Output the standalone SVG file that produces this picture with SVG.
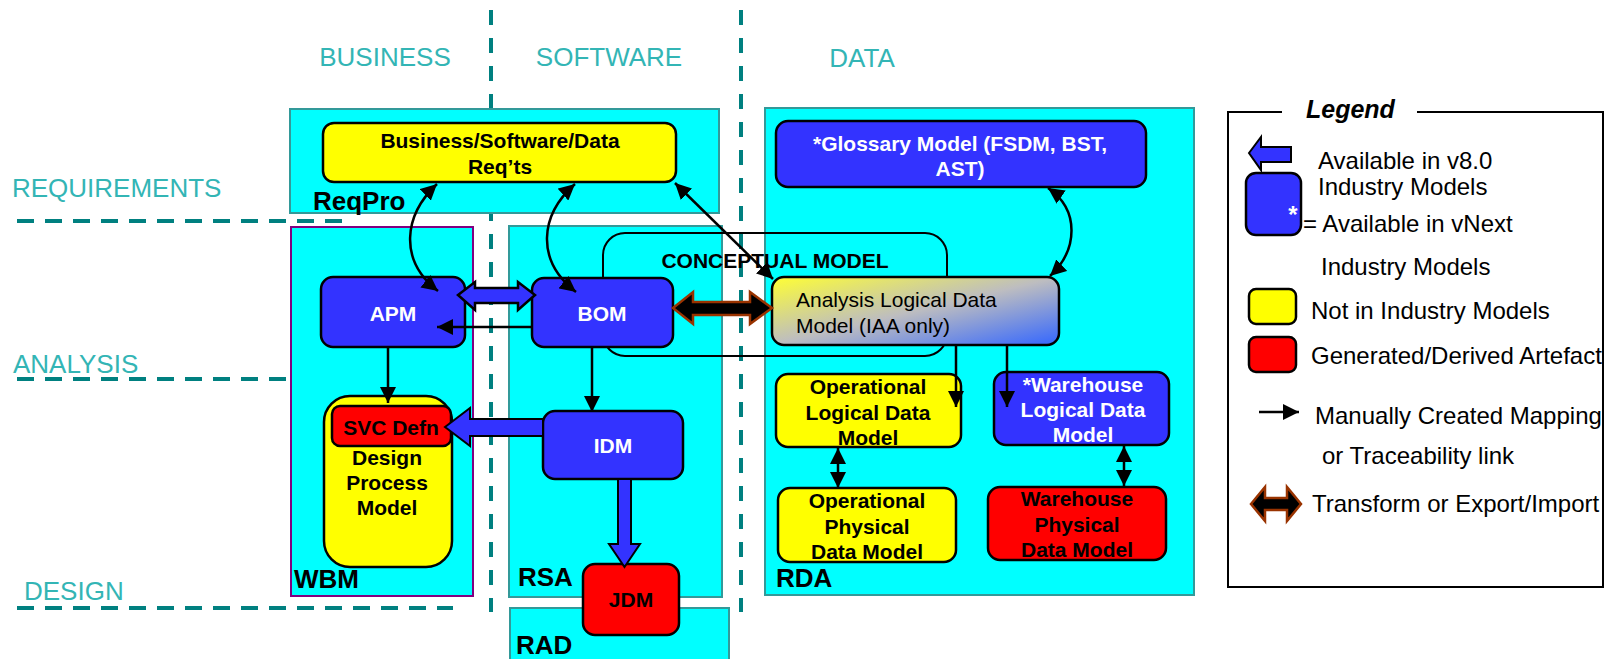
<svg xmlns="http://www.w3.org/2000/svg" width="1613" height="659" viewBox="0 0 1613 659">
<style>
text{font-family:"Liberation Sans",Arial,sans-serif}
.lane{fill:#33B5B5;font-size:26px}
.dash{stroke:#008080;stroke-width:4;fill:none}
.dv{stroke-dasharray:15 13}
.dh{stroke-dasharray:17 11}
.cont{fill:#00FFFF;stroke:#339999;stroke-width:2}
.tool{font-size:26px;font-weight:bold;fill:#000}
.blue{fill:#3333FF;stroke:#000;stroke-width:2.5}
.yel{fill:#FFFF00;stroke:#000;stroke-width:2.5}
.red{fill:#FF0000;stroke:#000;stroke-width:2.5}
.nt{font-size:21px;font-weight:bold;text-anchor:middle}
.w{fill:#fff}
.k{fill:#000}
.con{stroke:#000;stroke-width:2.5;fill:none}
.leg{font-size:24px;fill:#000}
</style>
<defs>
<marker id="ah" markerUnits="userSpaceOnUse" markerWidth="16" markerHeight="16" refX="16" refY="8" orient="auto-start-reverse" viewBox="0 0 16 16">
<path d="M0,0 L16,8 L0,16 Z" fill="#000"/>
</marker>
<linearGradient id="grad" x1="0" y1="0" x2="1" y2="1">
<stop offset="0" stop-color="#FFFF33"/>
<stop offset="0.5" stop-color="#BDBDC0"/>
<stop offset="1" stop-color="#3366FF"/>
</linearGradient>
</defs>
<rect width="1613" height="659" fill="#fff"/>

<g id="lanes">
<text class="lane" x="385" y="66" text-anchor="middle">BUSINESS</text>
<text class="lane" x="609" y="66" text-anchor="middle">SOFTWARE</text>
<text class="lane" x="862" y="67" text-anchor="middle">DATA</text>
<text class="lane" x="12" y="197">REQUIREMENTS</text>
<text class="lane" x="13" y="373">ANALYSIS</text>
<text class="lane" x="24" y="600">DESIGN</text>
<path class="dash dv" d="M491,10 L491,612"/>
<path class="dash dv" d="M741,10 L741,612"/>
<path class="dash dh" d="M17,221 L347,221"/>
<path class="dash dh" d="M17,379 L288,379"/>
<path class="dash dh" d="M17,608 L453,608"/>
</g>

<g id="reqpro">
<rect class="cont" x="290" y="109" width="429" height="104"/>
<text class="tool" x="313" y="210">ReqPro</text>
</g>
<g id="wbm">
<rect x="291" y="227" width="182" height="369" fill="#00FFFF" stroke="#800080" stroke-width="2"/>
<text class="tool" x="294" y="588">WBM</text>
</g>
<g id="rsa">
<rect class="cont" x="509" y="226" width="213" height="371"/>
<text class="tool" x="518" y="586">RSA</text>
</g>
<g id="rad">
<rect class="cont" x="510" y="608" width="219" height="60"/>
<text class="tool" x="516" y="654">RAD</text>
</g>
<g id="rda">
<rect class="cont" x="765" y="108" width="429" height="487"/>
<text class="tool" x="776" y="587">RDA</text>
</g>

<g id="conceptual-model">
<rect x="603" y="233" width="344" height="123" rx="22" fill="none" stroke="#000" stroke-width="2"/>
<text x="775" y="268" font-size="21" font-weight="bold" text-anchor="middle">CONCEPTUAL MODEL</text>
</g>

<g id="req">
<rect class="yel" x="323" y="123" width="353" height="59" rx="11"/>
<text class="nt k" x="500" y="147.5">Business/Software/Data</text>
<text class="nt k" x="500" y="173.5">Req’ts</text>
</g>
<g id="apm">
<rect class="blue" x="321" y="277" width="144" height="70" rx="12"/>
<text class="nt w" x="393" y="320.5">APM</text>
</g>
<g id="bom">
<rect class="blue" x="532" y="278" width="141" height="69" rx="12"/>
<text class="nt w" x="602" y="320.5">BOM</text>
</g>
<g id="dpm">
<rect class="yel" x="324" y="396" width="128" height="171" rx="26"/>
<text class="nt k" x="387" y="464.5">Design</text>
<text class="nt k" x="387" y="489.5">Process</text>
<text class="nt k" x="387" y="514.5">Model</text>
</g>
<g id="svc">
<rect class="red" x="332" y="406" width="119" height="40" rx="8"/>
<text class="nt k" x="391" y="434.5">SVC Defn</text>
</g>
<g id="idm">
<rect class="blue" x="543" y="411" width="140" height="68" rx="12"/>
<text class="nt w" x="613" y="452.5">IDM</text>
</g>
<g id="jdm">
<rect class="red" x="583" y="564" width="96" height="71" rx="12"/>
<text class="nt k" x="631" y="606.5">JDM</text>
</g>
<g id="glossary">
<rect class="blue" x="776" y="121" width="370" height="66" rx="12"/>
<text class="nt w" x="960" y="150.5">*Glossary Model (FSDM, BST,</text>
<text class="nt w" x="960" y="175.5">AST)</text>
</g>
<g id="aldm">
<rect x="772" y="277" width="287" height="68" rx="12" fill="url(#grad)" stroke="#000" stroke-width="2.5"/>
<text x="796" y="307" font-size="21">Analysis Logical Data</text>
<text x="796" y="333" font-size="21">Model (IAA only)</text>
</g>
<g id="old">
<rect class="yel" x="776" y="374" width="185" height="73" rx="12"/>
<text class="nt k" x="868" y="393.5">Operational</text>
<text class="nt k" x="868" y="419.5">Logical Data</text>
<text class="nt k" x="868" y="444.5">Model</text>
</g>
<g id="wld">
<rect class="blue" x="994" y="372" width="175" height="73" rx="12"/>
<text class="nt w" x="1083" y="391.5">*Warehouse</text>
<text class="nt w" x="1083" y="416.5">Logical Data</text>
<text class="nt w" x="1083" y="441.5">Model</text>
</g>
<g id="opd">
<rect class="yel" x="778" y="488" width="178" height="74" rx="12"/>
<text class="nt k" x="867" y="507.5">Operational</text>
<text class="nt k" x="867" y="533.5">Physical</text>
<text class="nt k" x="867" y="558.5">Data Model</text>
</g>
<g id="wpd">
<rect class="red" x="988" y="487" width="178" height="73" rx="12"/>
<text class="nt k" x="1077" y="505.5">Warehouse</text>
<text class="nt k" x="1077" y="531.5">Physical</text>
<text class="nt k" x="1077" y="556.5">Data Model</text>
</g>

<g id="connectors">
<path class="con" d="M437,184 C404,215 398,260 438,291" marker-start="url(#ah)" marker-end="url(#ah)"/>
<path class="con" d="M575,184 C540,215 535,260 576,292" marker-start="url(#ah)" marker-end="url(#ah)"/>
<path class="con" d="M675,183 L773,279" marker-start="url(#ah)" marker-end="url(#ah)"/>
<path class="con" d="M1048,188 C1080,210 1078,250 1050,276" marker-start="url(#ah)" marker-end="url(#ah)"/>
<path class="con" d="M532,327 L437,327" marker-end="url(#ah)"/>
<path class="con" d="M388,347 L388,403" marker-end="url(#ah)"/>
<path class="con" d="M592,347 L592,412" marker-end="url(#ah)"/>
<path class="con" d="M956,345 L956,407" marker-end="url(#ah)"/>
<path class="con" d="M1007,345 L1007,407" marker-end="url(#ah)"/>
<path class="con" d="M838,448 L838,488" marker-start="url(#ah)" marker-end="url(#ah)"/>
<path class="con" d="M1124,446 L1124,486" marker-start="url(#ah)" marker-end="url(#ah)"/>
<path d="M458,295 L475,282 L475,288 L518,288 L518,282 L535,295 L518,310 L518,303 L475,303 L475,310 Z" fill="#3333FF" stroke="#000" stroke-width="2.5"/>
<path d="M445,427 L470,408 L470,419 L543,419 L543,436 L470,436 L470,446 Z" fill="#3333FF" stroke="#000" stroke-width="2"/>
<path d="M618,479 L631,479 L631,544 L640,544 L624.5,567 L609,544 L618,544 Z" fill="#3333FF" stroke="#000" stroke-width="2"/>
<path d="M673,308 L693,292 L693,302 L750,302 L750,292 L772,308 L750,324 L750,315 L693,315 L693,324 Z" fill="#000" stroke="#993300" stroke-width="2.5"/>
</g>

<g id="legend">
<path d="M1282,112 L1228,112 L1228,587 L1603,587 L1603,112 L1417,112" fill="none" stroke="#000" stroke-width="2"/>
<text x="1306" y="118" font-size="25" font-weight="bold" font-style="italic">Legend</text>
<path d="M1249,153 L1261,137 L1261,147 L1291,147 L1291,162 L1261,162 L1261,170 Z" fill="#3333FF" stroke="#000" stroke-width="2"/>
<rect class="blue" x="1246" y="173" width="55" height="62" rx="10"/>
<text x="1293" y="223" font-size="24" font-weight="bold" fill="#fff" text-anchor="middle">*</text>
<text class="leg" x="1318" y="169">Available in v8.0</text>
<text class="leg" x="1318" y="195">Industry Models</text>
<text class="leg" x="1303" y="232">= Available in vNext</text>
<text class="leg" x="1321" y="275">Industry Models</text>
<rect class="yel" x="1249" y="289" width="47" height="35" rx="7"/>
<text class="leg" x="1311" y="319">Not in Industry Models</text>
<rect class="red" x="1249" y="337" width="47" height="35" rx="7"/>
<text class="leg" x="1311" y="364">Generated/Derived Artefact</text>
<path class="con" d="M1259,412 L1299,412" marker-end="url(#ah)"/>
<text class="leg" x="1315" y="424">Manually Created Mapping</text>
<text class="leg" x="1322" y="464">or Traceability link</text>
<path d="M1251,504 L1265,487 L1265,498 L1287,498 L1287,487 L1301,504 L1287,521 L1287,510 L1265,510 L1265,521 Z" fill="#000" stroke="#993300" stroke-width="2.5"/>
<text class="leg" x="1312" y="512">Transform or Export/Import</text>
</g>
</svg>
